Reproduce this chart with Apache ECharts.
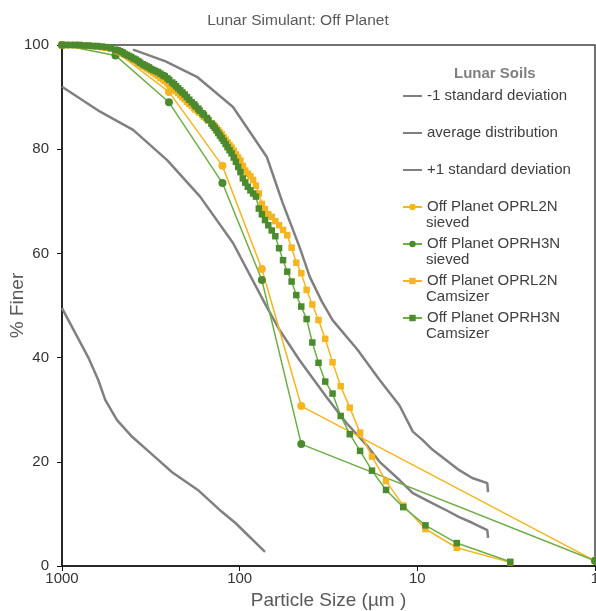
<!DOCTYPE html>
<html>
<head>
<meta charset="utf-8">
<script src="https://cdn.jsdelivr.net/npm/echarts@6/dist/echarts.min.js"></script>
<style>
  html, body { margin: 0; padding: 0; background: #fff; }
  #chart { width: 596px; height: 611px; }
</style>
</head>
<body>
<div id="chart"></div>
<script>
// lunar soil envelopes, [particle size µm, % finer]
const minusOneSd = [[1000, 49.5], [713, 40.1], [625, 35.7], [571, 31.9], [490, 28.0], [403, 24.8],
  [299, 20.9], [240, 18.0], [172, 14.6], [126, 10.4], [106, 8.3], [72, 2.7]];
const averageDist = [[1000, 92.0], [610, 87.2], [398, 83.7], [256, 77.9], [167, 70.9], [109, 62.0],
  [70.3, 49.7], [59.6, 45.3], [46, 39.5], [32.4, 32.4], [25, 27.4], [19.3, 23.2], [16.3, 20.0],
  [12.6, 16.5], [10.6, 14.0], [8.2, 12.0], [6.87, 10.7], [5.81, 9.4], [4.91, 8.3], [4.04, 6.9], [4.0, 5.4]];
const plusOneSd = [[398, 99.1], [263, 96.9], [174, 93.9], [109, 88.1], [70.3, 78.5], [57.3, 69.7],
  [46, 61.2], [40.3, 55.5], [34.5, 50.8], [30.0, 47.2], [21.7, 41.5], [16.3, 35.7], [12.6, 30.8],
  [10.6, 25.8], [9.36, 24.2], [8.2, 22.3], [6.87, 20.3], [5.81, 18.4], [4.91, 16.9], [4.04, 15.9], [4.0, 14.2]];

// sieve results
const sieveSizes = [1000, 500, 250, 125, 75, 45, 1];
const oprl2nSieved = [100, 98.8, 91.0, 76.8, 57.0, 30.7, 1.0];
const oprh3nSieved = [100, 98.0, 89.0, 73.5, 54.9, 23.4, 1.0];

// camsizer results
const camSizes = [3, 6, 9, 12, 15, 18, 21, 24, 27, 30, 33, 36, 39, 42, 45, 48, 51, 54, 57, 60,
  63, 66, 69, 72, 75, 78, 81, 84, 87, 90, 93, 96, 99, 102, 105, 108, 111, 114, 117, 120,
  123, 126, 129, 132, 135, 138, 141, 144, 150, 153, 159, 162, 168, 171, 177, 180, 186, 192, 198, 204,
  210, 216, 222, 228, 234, 240, 249, 255, 264, 270, 279, 288, 297, 306, 315, 324, 333, 342, 351, 363,
  372, 384, 396, 408, 420, 432, 444, 456, 471, 486, 501, 531, 564, 597, 633, 672, 711, 753, 798, 846,
  897, 951, 999];
const oprl2nCam = [0.7, 3.5, 7.1, 11.6, 16.3, 21.0, 25.6, 30.4, 34.5, 39.1, 43.6, 47.2, 50.2, 53.0, 56.2, 58.2, 61.1, 63.5, 64.5, 65.4,
  66.2, 67.0, 67.5, 68.5, 69.5, 71.5, 73.0, 74.1, 74.8, 75.3, 75.9, 76.8, 77.8, 78.4, 79.0, 79.7, 80.3, 80.8, 81.3, 81.8,
  82.3, 82.8, 83.2, 83.6, 84.0, 84.4, 84.7, 85.0, 85.5, 85.8, 86.2, 86.6, 87.0, 87.3, 87.6, 87.9, 88.3, 88.7, 89.1, 89.6,
  90.0, 90.4, 90.8, 91.2, 91.6, 91.9, 92.4, 92.7, 93.1, 93.4, 93.7, 94.1, 94.4, 94.7, 95.0, 95.3, 95.5, 95.8, 96.0, 96.3,
  96.6, 96.9, 97.2, 97.5, 97.7, 98.0, 98.2, 98.4, 98.6, 98.8, 99.0, 99.3, 99.5, 99.6, 99.7, 99.8, 99.9, 99.9, 100, 100,
  100, 100, 100];
const oprh3nCam = [0.8, 4.4, 7.8, 11.3, 14.6, 18.3, 22.1, 25.3, 28.8, 33.1, 35.4, 39.0, 42.9, 47.4, 49.8, 52.0, 54.6, 56.5, 58.7, 61.0,
  63.3, 64.4, 65.4, 66.4, 67.5, 68.6, 70.9, 71.5, 72.1, 72.8, 73.6, 74.4, 75.6, 76.6, 77.6, 78.4, 79.2, 79.8, 80.4, 81.0,
  81.6, 82.1, 82.6, 83.1, 83.6, 84.1, 84.5, 84.9, 85.6, 86.0, 86.6, 86.9, 87.4, 87.8, 88.2, 88.6, 89.0, 89.5, 90.0, 90.5,
  90.9, 91.3, 91.7, 92.1, 92.5, 92.8, 93.3, 93.6, 94.0, 94.2, 94.5, 94.8, 95.0, 95.2, 95.4, 95.7, 95.9, 96.1, 96.3, 96.6,
  96.9, 97.2, 97.4, 97.7, 97.9, 98.1, 98.3, 98.6, 98.8, 99.0, 99.1, 99.4, 99.6, 99.7, 99.8, 99.8, 99.9, 99.9, 100, 100,
  100, 100, 100];

const xTicks = [1000, 100, 10, 1];

const FONT = "'Liberation Sans', Arial, Helvetica, sans-serif";
const GRAY = "#808080";
const TEXT = "#404040";
const YELLOW = "#F6B51E";
const GREEN_LINE = "#6DAE45";
const GREEN_MARK = "#4B8A2E";

const pairs = (xs, ys) => xs.map((x, i) => [x, ys[i]]);

function graySeries(name, data) {
  return {
    name, type: "line", data, symbol: "none", z: 2,
    lineStyle: { color: GRAY, width: 2.5 },
    itemStyle: { color: GRAY },
  };
}

function dataSeries(name, data, color, markColor, symbol, size) {
  return {
    name, type: "line", data, symbol, symbolSize: size, z: 3,
    lineStyle: { color, width: 1.5 },
    itemStyle: { color: markColor },
  };
}

// legend: gray entries show only the line
const grayLegend = (name) => ({ name, itemStyle: { color: "rgba(0,0,0,0)", borderWidth: 0 } });

const chart = echarts.init(document.getElementById("chart"));
chart.setOption({
  animation: false,
  textStyle: { fontFamily: FONT },
  title: {
    text: "Lunar Simulant: Off Planet",
    left: "center", top: 8,
    textStyle: { fontSize: 15.5, fontWeight: "normal", color: "#595959", fontFamily: FONT },
  },
  grid: {
    left: 62, right: 1, top: 45, bottom: 45,
    show: true, borderColor: "#444", borderWidth: 1.5,
    outerBoundsMode: "none",
  },
  legend: {
    orient: "vertical", left: 402, top: 87, padding: 0,
    itemWidth: 19, itemHeight: 8, itemGap: 19,
    textStyle: { fontSize: 15, color: TEXT, lineHeight: 18, fontFamily: FONT },
    formatter: (name) => name.split("\n")[0],
    data: [grayLegend("-1 standard deviation"), grayLegend("average distribution"), grayLegend("+1 standard deviation"),
      "Off Planet OPRL2N\nsieved", "Off Planet OPRH3N\nsieved",
      "Off Planet OPRL2N\nCamsizer", "Off Planet OPRH3N\nCamsizer"],
  },
  graphic: [
    { type: "text", left: 454, top: 66, style: { text: "Lunar Soils", fontSize: 15, fontWeight: "bold", fill: GRAY, fontFamily: FONT } },
    { type: "text", left: 426, top: 215.5, style: { text: "sieved", fontSize: 15, fill: TEXT, fontFamily: FONT } },
    { type: "text", left: 426, top: 252.5, style: { text: "sieved", fontSize: 15, fill: TEXT, fontFamily: FONT } },
    { type: "text", left: 426, top: 289.5, style: { text: "Camsizer", fontSize: 15, fill: TEXT, fontFamily: FONT } },
    { type: "text", left: 426, top: 326.5, style: { text: "Camsizer", fontSize: 15, fill: TEXT, fontFamily: FONT } },
  ],
  xAxis: {
    type: "log", logBase: 10, min: 1, max: 1000, inverse: true,
    name: "Particle Size (µm )", nameLocation: "middle", nameGap: 21,
    nameTextStyle: { fontSize: 19, color: "#595959", fontFamily: FONT },
    axisLine: { lineStyle: { color: "#111", width: 1.5 } },
    axisTick: { show: true, length: 5, lineStyle: { color: "#111" } },
    axisLabel: {
      fontSize: 15, color: "#333", margin: 5,
      formatter: (v) => (xTicks.includes(Math.round(v)) ? String(Math.round(v)) : ""),
    },
    splitLine: { show: false },
    minorTick: { show: false },
  },
  yAxis: {
    type: "value", min: 0, max: 100, interval: 20,
    name: "% Finer", nameLocation: "middle", nameGap: 35, nameMoveOverlap: false,
    nameTextStyle: { fontSize: 19, color: "#595959", fontFamily: FONT },
    axisLine: { show: true, lineStyle: { color: "#111", width: 1.5 } },
    axisTick: { show: true, length: 5, lineStyle: { color: "#111" } },
    axisLabel: { fontSize: 15, color: "#333", margin: 13 },
    splitLine: { show: false },
  },
  series: [
    graySeries("-1 standard deviation", minusOneSd),
    graySeries("average distribution", averageDist),
    graySeries("+1 standard deviation", plusOneSd),
    dataSeries("Off Planet OPRL2N\nsieved", pairs(sieveSizes, oprl2nSieved), YELLOW, YELLOW, "circle", 8),
    dataSeries("Off Planet OPRH3N\nsieved", pairs(sieveSizes, oprh3nSieved), GREEN_LINE, GREEN_MARK, "circle", 8),
    dataSeries("Off Planet OPRL2N\nCamsizer", pairs(camSizes, oprl2nCam), YELLOW, YELLOW, "rect", 6.5),
    dataSeries("Off Planet OPRH3N\nCamsizer", pairs(camSizes, oprh3nCam), GREEN_LINE, GREEN_MARK, "rect", 6.5),
  ],
});
</script>
</body>
</html>
